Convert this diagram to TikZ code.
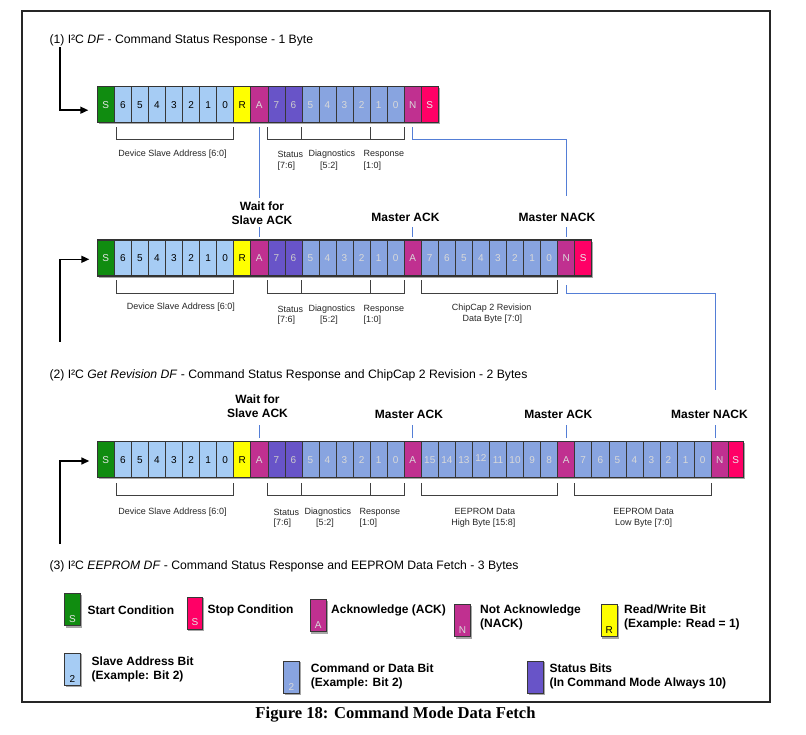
\documentclass[tikz,border=0pt]{standalone}
\usepackage{fontspec}
\setmainfont{Liberation Serif}
\setsansfont{Liberation Sans}
\usetikzlibrary{arrows.meta,backgrounds}
\definecolor{cStart}{RGB}{16,140,16}
\definecolor{cStop}{RGB}{255,0,102}
\definecolor{cAddr}{RGB}{166,204,244}
\definecolor{cRW}{RGB}{255,255,0}
\definecolor{cAck}{RGB}{192,48,144}
\definecolor{cStat}{RGB}{104,84,200}
\definecolor{cData}{RGB}{136,164,224}
\definecolor{cConn}{RGB}{84,126,214}
\definecolor{cLine}{RGB}{55,55,55}
\tikzset{
 cell/.style={draw=cLine, line width=0.6pt, minimum width=17.05pt, minimum height=36pt, inner sep=0pt, outer sep=0pt, anchor=north west, font=\sffamily\fontsize{10}{10}\selectfont},
 st/.style={fill=cStart, text=white!90!black},
 sp/.style={fill=cStop, text=white!92!black},
 ad/.style={fill=cAddr, text=black},
 rw/.style={fill=cRW, text=black},
 ak/.style={fill=cAck, text=white!85!black},
 sb/.style={fill=cStat, text=white!80!black},
 db/.style={fill=cData, text=white!85!black},
 rowframe/.style={draw=black!80, line width=1.2pt},
 rowshadow/.style={fill=black!35},
 brk/.style={draw=black!75, line width=0.9pt},
 conn/.style={draw=cConn, line width=1pt},
 arr/.style={draw=black, line width=1.5pt, -{Triangle[length=8pt,width=7pt]}},
 ttl/.style={anchor=west, inner sep=0pt, font=\sffamily\fontsize{12.2}{14}\selectfont},
 lbl/.style={inner sep=0pt, font=\sffamily\fontsize{9}{11}\selectfont, text=black!85},
 hdr/.style={inner sep=0pt, align=center, font=\sffamily\bfseries\fontsize{12}{14}\selectfont},
 legbox/.style={draw=cLine, line width=0.8pt, minimum width=15.5pt, minimum height=32pt, inner sep=0pt, anchor=north west},
 legl/.style={inner sep=0pt, font=\sffamily\fontsize{10}{10}\selectfont},
 legt/.style={anchor=west, inner sep=0pt, align=left, font=\sffamily\bfseries\fontsize{12}{14}\selectfont},
}
\begin{document}
\begin{tikzpicture}[x=1pt,y=-1pt]
\useasboundingbox (0,0) rectangle (806,734);
% frame
\draw[line width=2pt, black!85] (21.7,11) rectangle (770.3,701.7);

% titles
\node[ttl] (t1) at (49.3,40) {(1) I²C \textit{DF} - Command Status Response - 1 Byte};
\node[ttl] (t2) at (49.3,375) {(2) I²C \textit{Get Revision DF} - Command Status Response and ChipCap 2 Revision - 2 Bytes};
\node[ttl] (t3) at (49.3,566.7) {(3) I²C \textit{EEPROM DF} - Command Status Response and EEPROM Data Fetch - 3 Bytes};

% ---------- row 1
\foreach \t/\l [count=\i from 0] in {st/S,ad/6,ad/5,ad/4,ad/3,ad/2,ad/1,ad/0,rw/R,ak/A,sb/7,sb/6,db/5,db/4,db/3,db/2,db/1,db/0,ak/N,sp/S}
  \node[cell,\t] (r1c\i) at ({97.3+\i*17.05},86.7) {\l};
\draw[rowframe] (r1c0.north west) rectangle (r1c19.south east);

% ---------- row 2
\foreach \t/\l [count=\i from 0] in {st/S,ad/6,ad/5,ad/4,ad/3,ad/2,ad/1,ad/0,rw/R,ak/A,sb/7,sb/6,db/5,db/4,db/3,db/2,db/1,db/0,ak/A,db/7,db/6,db/5,db/4,db/3,db/2,db/1,db/0,ak/N,sp/S}
  \node[cell,\t] (r2c\i) at ({97.3+\i*17.05},240) {\l};
\draw[rowframe] (r2c0.north west) rectangle (r2c28.south east);

% ---------- row 3
\foreach \t/\l [count=\i from 0] in {st/S,ad/6,ad/5,ad/4,ad/3,ad/2,ad/1,ad/0,rw/R,ak/A,sb/7,sb/6,db/5,db/4,db/3,db/2,db/1,db/0,ak/A,db/15,db/14,db/13,db/{\raisebox{4pt}{12}},db/11,db/10,db/9,db/8,ak/A,db/7,db/6,db/5,db/4,db/3,db/2,db/1,db/0,ak/N}
  \node[cell,\t] (r3c\i) at ({97.3+\i*17.05},441.7) {\l};
\node[cell,sp,minimum width=15pt] (r3c37) at (r3c36.north east) {S};
\draw[rowframe] (r3c0.north west) rectangle (r3c37.south east);

% ---------- brackets row 1
\draw[brk] ([xshift=2pt,yshift=-4.5pt]r1c1.south west) -- ++(0,12.5) -| ([yshift=-4.5pt]r1c7.south east);
\draw[brk] ([yshift=-4.5pt]r1c10.south west) -- ++(0,12.5) -| ([yshift=-4.5pt]r1c17.south east);
\draw[brk] ([yshift=-4.5pt]r1c11.south east) -- ++(0,12.5);
\draw[brk] ([yshift=-4.5pt]r1c15.south east) -- ++(0,12.5);
% brackets row 2
\draw[brk] ([xshift=2pt,yshift=-4pt]r2c1.south west) -- ++(0,13) -| ([yshift=-4pt]r2c7.south east);
\draw[brk] ([yshift=-4pt]r2c10.south west) -- ++(0,13) -| ([yshift=-4pt]r2c17.south east);
\draw[brk] ([yshift=-4pt]r2c11.south east) -- ++(0,13);
\draw[brk] ([yshift=-4pt]r2c15.south east) -- ++(0,13);
\draw[brk] ([yshift=-4pt]r2c19.south west) -- ++(0,13) -| ([yshift=-4pt]r2c26.south east);
% brackets row 3
\draw[brk] ([xshift=2pt,yshift=-5.6pt]r3c1.south west) -- ++(0,11.7) -| ([yshift=-5.6pt]r3c7.south east);
\draw[brk] ([yshift=-5.6pt]r3c10.south west) -- ++(0,11.7) -| ([yshift=-5.6pt]r3c17.south east);
\draw[brk] ([yshift=-5.6pt]r3c11.south east) -- ++(0,11.7);
\draw[brk] ([yshift=-5.6pt]r3c15.south east) -- ++(0,11.7);
\draw[brk] ([yshift=-5.6pt]r3c19.south west) -- ++(0,11.7) -| ([yshift=-5.6pt]r3c26.south east);
\draw[brk] ([yshift=-5.6pt]r3c28.south west) -- ++(0,11.7) -| ([yshift=-5.6pt]r3c35.south east);

% ---------- labels row 1
\node[lbl] (l1a) at (172.5,154) {Device Slave Address [6:0]};
\node[lbl,anchor=west] (l1b) at (277.3,154) {Status};
\node[lbl,anchor=west] (l1c) at (277.3,165.7) {[7:6]};
\node[lbl,anchor=west] (l1d) at (308.3,154) {Diagnostics};
\node[lbl] (l1e) at (329,165.7) {[5:2]};
\node[lbl,anchor=west] (l1f) at (363.3,154) {Response};
\node[lbl,anchor=west] (l1g) at (363.3,165.7) {[1:0]};
% labels row 2
\node[lbl] (l2a) at (180.8,307.3) {Device Slave Address [6:0]};
\node[lbl,anchor=west] (l2b) at (277.3,309) {Status};
\node[lbl,anchor=west] (l2c) at (277.3,320) {[7:6]};
\node[lbl,anchor=west] (l2d) at (308.3,309) {Diagnostics};
\node[lbl] (l2e) at (329,320) {[5:2]};
\node[lbl,anchor=west] (l2f) at (363.3,309) {Response};
\node[lbl,anchor=west] (l2g) at (363.3,320) {[1:0]};
\node[lbl] (l2h) at (491.7,308.3) {ChipCap 2 Revision};
\node[lbl] (l2i) at (492.3,319.3) {Data Byte [7:0]};
% labels row 3
\node[lbl] (l3a) at (172.5,512.3) {Device Slave Address [6:0]};
\node[lbl,anchor=west] (l3b) at (273.3,512.3) {Status};
\node[lbl,anchor=west] (l3c) at (273.3,523.3) {[7:6]};
\node[lbl,anchor=west] (l3d) at (304.3,512.3) {Diagnostics};
\node[lbl] (l3e) at (325,523.3) {[5:2]};
\node[lbl,anchor=west] (l3f) at (359.3,512.3) {Response};
\node[lbl,anchor=west] (l3g) at (359.3,523.3) {[1:0]};
\node[lbl] (l3h) at (485,511) {EEPROM Data};
\node[lbl] (l3i) at (483.3,522.7) {High Byte [15:8]};
\node[lbl] (l3j) at (643.7,511) {EEPROM Data};
\node[lbl] (l3k) at (643.7,522.7) {Low Byte [7:0]};

% ---------- headers row 2
\node[hdr] (w2) at (262,213.7) {Wait for\\Slave ACK};
\node[hdr] (m2a) at (405.5,217.7) {Master ACK};
\node[hdr] (m2n) at (557,217.7) {Master NACK};
% headers row 3
\node[hdr] (w3) at (257.5,406.7) {Wait for\\Slave ACK};
\node[hdr] (m3a) at (409,414.3) {Master ACK};
\node[hdr] (m3b) at (558.3,414.3) {Master ACK};
\node[hdr] (m3n) at (709.5,414.3) {Master NACK};

% ticks
\draw[conn] ([yshift=3.3pt]r2c9.north) -- ([yshift=13pt]r2c9.north);
\draw[conn] ([yshift=3.3pt]r2c18.north) -- ([yshift=13pt]r2c18.north);
\draw[conn] ([yshift=3.3pt]r2c27.north) -- ([yshift=13pt]r2c27.north);
\draw[conn] ([yshift=3.7pt]r3c9.north) -- ([yshift=16.7pt]r3c9.north);
\draw[conn] ([yshift=3.7pt]r3c18.north) -- ([yshift=16.7pt]r3c18.north);
\draw[conn] ([yshift=3.7pt]r3c27.north) -- ([yshift=16.7pt]r3c27.north);
\draw[conn] ([xshift=-4.5pt,yshift=3.7pt]r3c36.north) -- ([xshift=-4.5pt,yshift=16.7pt]r3c36.north);

% blue connectors between rows
\coordinate (e1) at (r1c9.south |- 0,198);
\coordinate (e2) at (r2c27.north |- 0,196);
\coordinate (e3) at ([xshift=-4.5pt]r3c36.north |- 0,390);
\draw[conn] ([yshift=-4.4pt]r1c9.south) -- (e1);
\draw[conn] ([yshift=-4.4pt]r1c18.south) -- ++(0,12.6) -| (e2);
\draw[conn] ([yshift=-9pt]r2c27.south) -- ++(0,8.3) -| (e3);

% black arrows
\coordinate (a1) at (60,47);
\coordinate (a2) at (60,341.7);
\coordinate (a3) at (60,544);
\draw[arr] (a1) |- ([xshift=-9pt,yshift=-5.5pt]r1c0.west);
\draw[arr] (a2) |- ([xshift=-8pt,yshift=-1.3pt]r2c0.west);
\draw[arr] (a3) |- ([xshift=-8pt,yshift=-1.3pt]r3c0.west);

% ---------- legend
\node[legbox,fill=cStart] (g1) at (64.3,593.3) {};
\node[legl,text=white!90!black] at ([yshift=7pt]g1.south) {S};
\node[legt] (g1t) at (87.3,610) {Start Condition};
\node[legbox,fill=cStop] (g2) at (186.7,596.7) {};
\node[legl,text=white!90!black] at ([yshift=7pt]g2.south) {S};
\node[legt] (g2t) at (207.3,610) {Stop Condition};
\node[legbox,fill=cAck] (g3) at (310,599.3) {};
\node[legl,text=white!85!black] at ([yshift=7pt]g3.south) {A};
\node[legt] (g3t) at (331,610) {Acknowledge (ACK)};
\node[legbox,fill=cAck] (g4) at (454.3,604.3) {};
\node[legl,text=white!85!black] at ([yshift=7pt]g4.south) {N};
\node[legt] (g4t) at (480,617.2) {Not Acknowledge\\(NACK)};
\node[legbox,fill=cRW] (g5) at (601,604.3) {};
\node[legl,text=black] at ([yshift=7pt]g5.south) {R};
\node[legt] (g5t) at (624,617.2) {Read/Write Bit\\(Example: Read = 1)};
\node[legbox,fill=cAddr] (g6) at (64.3,652.7) {};
\node[legl,text=black] at ([yshift=7pt]g6.south) {2};
\node[legt] (g6t) at (91.5,669.7) {Slave Address Bit\\(Example: Bit 2)};
\node[legbox,fill=cData] (g7) at (283.3,661) {};
\node[legl,text=white!85!black] at ([yshift=7pt]g7.south) {2};
\node[legt] (g7t) at (310.7,676.7) {Command or Data Bit\\(Example: Bit 2)};
\node[legbox,fill=cStat] (g8) at (527.3,660.7) {};
\node[legt] (g8t) at (549.3,676.7) {Status Bits\\(In Command Mode Always 10)};

% caption
\node[inner sep=0pt, font=\rmfamily\bfseries\fontsize{16.6}{17}\selectfont] (cap) at (395.5,715) {Figure 18: Command Mode Data Fetch};

% ---------- background: white page and shadows
\begin{scope}[on background layer]
\fill[white] (0,0) rectangle (806,734);
\fill[rowshadow] ([shift={(1.6pt,-1.6pt)}]r1c0.north west) rectangle ([shift={(1.6pt,-1.6pt)}]r1c19.south east);
\fill[rowshadow] ([shift={(1.6pt,-1.6pt)}]r2c0.north west) rectangle ([shift={(1.6pt,-1.6pt)}]r2c28.south east);
\fill[rowshadow] ([shift={(1.6pt,-1.6pt)}]r3c0.north west) rectangle ([shift={(1.6pt,-1.6pt)}]r3c37.south east);
\foreach \g in {g1,g2,g3,g4,g5,g6,g7,g8}
  \fill[rowshadow] ([shift={(1.4pt,-1.4pt)}]\g.north west) rectangle ([shift={(1.4pt,-1.4pt)}]\g.south east);
\end{scope}
\end{tikzpicture}
\end{document}
